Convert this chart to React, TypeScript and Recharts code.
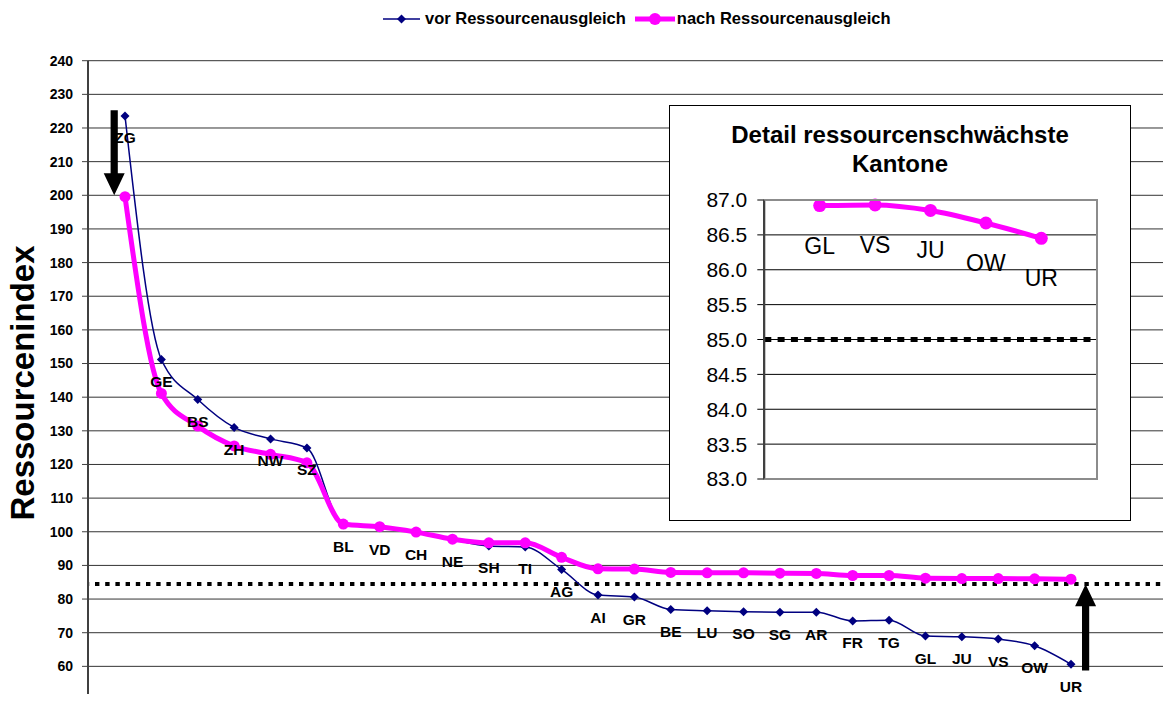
import React from 'react';
import { LineChart, Line, XAxis, YAxis, CartesianGrid, ReferenceLine, LabelList } from 'recharts';

const FONT = "'Liberation Sans', Arial, sans-serif";
const NAVY = '#000080';
const MAGENTA = '#FF00FF';

// Hauptgrafik
const kantone = ['ZG', 'GE', 'BS', 'ZH', 'NW', 'SZ', 'BL', 'VD', 'CH', 'NE', 'SH', 'TI', 'AG', 'AI', 'GR', 'BE', 'LU', 'SO', 'SG', 'AR', 'FR', 'TG', 'GL', 'JU', 'VS', 'OW', 'UR'];
const vorAusgleich = [223.6, 151.2, 139.3, 131.0, 127.6, 124.9, 102.1, 101.3, 99.9, 97.7, 95.8, 95.5, 88.8, 81.2, 80.6, 76.9, 76.5, 76.2, 76.1, 76.1, 73.5, 73.7, 69.0, 68.8, 68.1, 66.1, 60.6];
const nachAusgleich = [199.6, 141.1, 131.4, 125.5, 123.0, 120.5, 102.3, 101.5, 99.9, 97.8, 96.7, 96.7, 92.4, 89.0, 88.9, 87.9, 87.8, 87.8, 87.7, 87.6, 87.0, 87.0, 86.2, 86.1, 86.1, 86.0, 85.9];
const yTicks = [50, 60, 70, 80, 90, 100, 110, 120, 130, 140, 150, 160, 170, 180, 190, 200, 210, 220, 230, 240];
const mindestLinie = 84.5;

// Pfeile: Kanton, Start, Spitze
const pfeilRunter = ['ZG', 225.3, 200.0] as const;
const pfeilRauf = ['UR', 58.8, 84.4] as const;

// Detailgrafik
const detailKantone = ['GL', 'VS', 'JU', 'OW', 'UR'];
const detailNach = [86.92, 86.93, 86.85, 86.67, 86.45];
const detailTicks = [83, 83.5, 84, 84.5, 85, 85.5, 86, 86.5, 87];
const detailLinie = 85;

const data = kantone.map((k, i) => ({ kanton: k, vor: vorAusgleich[i], nach: nachAusgleich[i] }));
const detailData = detailKantone.map((k, i) => ({ kanton: k, nach: detailNach[i] }));

function Diamond(props: any) {
  const { cx, cy, index } = props;
  if (cx == null || cy == null) return null;
  const s = 4.5;
  return <polygon key={`d-${index}`} points={`${cx},${cy - s} ${cx + s},${cy} ${cx},${cy + s} ${cx - s},${cy}`} fill={NAVY} />;
}

function arrow(dx: number) {
  return (p: any) => {
    const x = p.x1 + dx;
    const y1 = p.y1;
    const y2 = p.y2;
    const dir = y2 > y1 ? 1 : -1;
    const head = 22;
    const hw = 10.5;
    const sw = 3.6;
    const yb = y2 - dir * head;
    const pts = [[x - sw, y1], [x + sw, y1], [x + sw, yb], [x + hw, yb], [x, y2], [x - hw, yb], [x - sw, yb]];
    return <polygon points={pts.map(q => q.join(',')).join(' ')} fill="#000" />;
  };
}

function labelAt(dy: number, size: number, bold: boolean) {
  return (p: any) => {
    const vb = p.viewBox || {};
    const x = p.x ?? vb.x;
    const y = p.y ?? vb.y;
    if (x == null || y == null) return null;
    return (
      <text key={`l-${p.index}`} x={x} y={y + dy} textAnchor="middle" fontSize={size} fontWeight={bold ? 'bold' : 'normal'} fill="#000" fontFamily={FONT}>
        {p.value}
      </text>
    );
  };
}

export default function App() {
  return (
    <div style={{ position: 'relative', width: 1171, height: 702, margin: -8, overflow: 'hidden', background: '#fff', fontFamily: FONT }}>
      {/* Legende */}
      <div style={{ position: 'absolute', left: 383, top: 8, height: 21, display: 'flex', alignItems: 'center', fontSize: 16.5, fontWeight: 'bold', whiteSpace: 'nowrap', color: '#000' }}>
        <svg width={37} height={14}>
          <line x1={0} x2={37} y1={7} y2={7} stroke={NAVY} strokeWidth={1.5} />
          <polygon points="18.5,2.5 23,7 18.5,11.5 14,7" fill={NAVY} />
        </svg>
        <span style={{ marginLeft: 5 }}>vor Ressourcenausgleich</span>
        <svg width={40} height={14} style={{ marginLeft: 9 }}>
          <line x1={0} x2={40} y1={7} y2={7} stroke={MAGENTA} strokeWidth={5} />
          <circle cx={20} cy={7} r={6} fill={MAGENTA} />
        </svg>
        <span style={{ marginLeft: 2 }}>nach Ressourcenausgleich</span>
      </div>

      {/* Achsentitel */}
      <div style={{ position: 'absolute', left: 22.5, top: 382.7, transform: 'translate(-50%, -50%) rotate(-90deg)', fontSize: 33, fontWeight: 'bold', whiteSpace: 'nowrap', color: '#000' }}>
        Ressourcenindex
      </div>

      <div style={{ position: 'absolute', left: 0, top: 0 }}>
        <LineChart width={1200} height={760} data={data} margin={{ top: 60.7, right: 20, bottom: 60, left: 0 }}>
          <CartesianGrid vertical={false} stroke="#333" strokeWidth={1} />
          <XAxis dataKey="kanton" hide scale="point" padding={{ left: 37, right: 109 }} />
          <YAxis
            width={88}
            domain={[50, 240]}
            ticks={yTicks}
            interval={0}
            tick={{ fontSize: 14, fontWeight: 'bold', fill: '#000' }}
            tickSize={6}
            tickMargin={9}
            axisLine={{ stroke: '#404040', strokeWidth: 2 }}
            tickLine={{ stroke: '#404040' }}
          />
          <ReferenceLine y={mindestLinie} stroke="#000" strokeWidth={4} strokeDasharray="4.4 5.8" strokeDashoffset={3.2} />
          <ReferenceLine segment={[{ x: pfeilRunter[0], y: pfeilRunter[1] }, { x: pfeilRunter[0], y: pfeilRunter[2] }]} shape={arrow(-10.8)} />
          <ReferenceLine segment={[{ x: pfeilRauf[0], y: pfeilRauf[1] }, { x: pfeilRauf[0], y: pfeilRauf[2] }]} shape={arrow(14.6)} />
          <Line type="monotone" dataKey="vor" stroke={NAVY} strokeWidth={1.5} dot={Diamond} activeDot={false} isAnimationActive={false} />
          <Line type="monotone" dataKey="nach" stroke={MAGENTA} strokeWidth={5} dot={{ r: 5.5, fill: MAGENTA, stroke: MAGENTA, strokeWidth: 0 }} activeDot={false} isAnimationActive={false} />
          <Line type="monotone" dataKey="vor" stroke="none" dot={false} activeDot={false} isAnimationActive={false} legendType="none">
            <LabelList dataKey="kanton" content={labelAt(27.5, 15.5, true)} />
          </Line>
        </LineChart>
      </div>

      {/* Detail */}
      <div style={{ position: 'absolute', left: 669, top: 105, width: 462, height: 416, boxSizing: 'border-box', border: '1.5px solid #000', background: '#fff' }}>
        <div style={{ position: 'absolute', left: 0, top: 13.5, width: '100%', textAlign: 'center', fontSize: 24, fontWeight: 'bold', lineHeight: '29.7px', color: '#000' }}>
          Detail ressourcenschwächste<br />Kantone
        </div>
      </div>
      <div style={{ position: 'absolute', left: 669, top: 180 }}>
        <LineChart width={462} height={330} data={detailData} margin={{ top: 20, right: 34.3, bottom: 31, left: 0 }}>
          <CartesianGrid vertical={false} stroke="#000" strokeWidth={1} />
          <XAxis dataKey="kanton" hide scale="point" padding={{ left: 55.4, right: 55.4 }} />
          <YAxis
            width={95.3}
            domain={[83, 87]}
            ticks={detailTicks}
            interval={0}
            tickFormatter={(v: number) => v.toFixed(1)}
            tick={{ fontSize: 21, fill: '#000' }}
            tickSize={7}
            tickMargin={10}
            axisLine={{ stroke: '#404040', strokeWidth: 2 }}
            tickLine={{ stroke: '#000' }}
          />
          <ReferenceLine y={detailLinie} stroke="#000" strokeWidth={5} strokeDasharray="7 6.3" />
          <Line type="monotone" dataKey="nach" stroke={MAGENTA} strokeWidth={5} dot={{ r: 6.5, fill: MAGENTA, stroke: MAGENTA, strokeWidth: 0 }} activeDot={false} isAnimationActive={false}>
            <LabelList dataKey="kanton" content={labelAt(48, 23, false)} />
          </Line>
        </LineChart>
      </div>
      {/* Rahmen der Detail-Zeichenfläche */}
      <div style={{ position: 'absolute', left: 763.3, top: 199, width: 334.4, height: 281, boxSizing: 'border-box', border: '2px solid #8c8c8c', borderLeft: '2px solid #404040', pointerEvents: 'none' }} />
    </div>
  );
}
